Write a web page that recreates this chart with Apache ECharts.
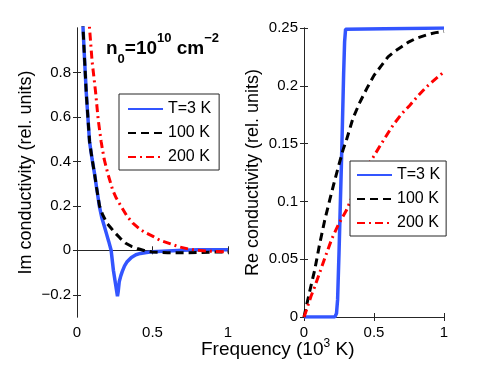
<!DOCTYPE html>
<html lang="en">
<head>
<meta charset="UTF-8">
<title>Conductivity</title>
<script src="https://cdn.jsdelivr.net/npm/echarts@6/dist/echarts.min.js"></script>
<style>body{margin:0;background:#fff}</style>
</head>
<body>
<div id="main" style="width:491px;height:369px"></div>
<script type="text/javascript">
// legend names
var names = ['T=3 K', '100 K', '200 K'];

// Im conductivity (left panel), frequency in 10^3 K
var imX3 = [0.035, 0.04, 0.05, 0.061, 0.07, 0.083, 0.1, 0.116, 0.13, 0.149, 0.165, 0.18, 0.195, 0.21, 0.226, 0.241, 0.255, 0.263, 0.268, 0.273, 0.28, 0.29, 0.3, 0.315, 0.33, 0.36, 0.39, 0.42, 0.46, 0.5, 0.6, 0.7, 0.8, 0.9, 1];
var imY3 = [1.1, 1.0, 0.86, 0.713, 0.62, 0.49, 0.41, 0.345, 0.28, 0.195, 0.145, 0.11, 0.075, 0.04, 0, -0.09, -0.15, -0.185, -0.207, -0.185, -0.14, -0.115, -0.095, -0.07, -0.053, -0.032, -0.02, -0.014, -0.01, -0.007, -0.003, 0, 0.002, 0.003, 0.003];
var imX100 = [0.035, 0.04, 0.05, 0.061, 0.07, 0.083, 0.1, 0.116, 0.13, 0.149, 0.17, 0.2, 0.225, 0.25, 0.285, 0.32, 0.36, 0.4, 0.45, 0.5, 0.6, 0.7, 0.8, 0.9, 1];
var imY100 = [1.1, 1.0, 0.86, 0.713, 0.62, 0.49, 0.41, 0.345, 0.28, 0.2, 0.16, 0.12, 0.1, 0.08, 0.055, 0.033, 0.018, 0.008, -0.002, -0.008, -0.011, -0.011, -0.01, -0.008, -0.007];
var imX200 = [0.075, 0.083, 0.1, 0.123, 0.14, 0.16, 0.18, 0.204, 0.237, 0.26, 0.29, 0.33, 0.37, 0.42, 0.46, 0.5, 0.55, 0.615, 0.68, 0.75, 0.8, 0.9, 1];
var imY200 = [1.06, 1.0, 0.85, 0.713, 0.59, 0.488, 0.41, 0.345, 0.27, 0.235, 0.2, 0.155, 0.122, 0.093, 0.077, 0.064, 0.045, 0.03, 0.015, 0.004, 0, -0.005, -0.007];

// Re conductivity (right panel)
var reX3 = [0, 0.22, 0.232, 0.24, 0.25, 0.26, 0.267, 0.275, 0.283, 0.29, 0.297, 0.31, 1];
var reY3 = [0, 0, 0.003, 0.015, 0.055, 0.1, 0.131, 0.17, 0.21, 0.238, 0.249, 0.25, 0.25];
var reX100 = [0, 0.021, 0.05, 0.076, 0.11, 0.148, 0.183, 0.219, 0.25, 0.28, 0.303, 0.35, 0.4, 0.45, 0.5, 0.55, 0.6, 0.65, 0.7, 0.75, 0.8, 0.874, 0.94, 1];
var reY100 = [0, 0.0116, 0.027, 0.0404, 0.062, 0.0837, 0.1008, 0.118, 0.132, 0.145, 0.153, 0.172, 0.186, 0.198, 0.209, 0.217, 0.225, 0.23, 0.234, 0.238, 0.241, 0.244, 0.246, 0.247];
var reX200 = [0, 0.017, 0.05, 0.076, 0.12, 0.16, 0.2, 0.25, 0.303, 0.374, 0.43, 0.493, 0.553, 0.636, 0.7, 0.755, 0.82, 0.874, 0.94, 1];
var reY200 = [0, 0.0058, 0.018, 0.026, 0.041, 0.0548, 0.068, 0.081, 0.0923, 0.1125, 0.126, 0.138, 0.15, 0.166, 0.176, 0.183, 0.192, 0.199, 0.206, 0.212];

// tick values
var imTicks = [-0.2, 0, 0.2, 0.4, 0.6, 0.8];

function zip(xs, ys) {
    return xs.map(function (x, i) { return [x, ys[i]]; });
}

var font = 'Liberation Sans, Arial, Helvetica, sans-serif';
var frame = '#262626';

function xAx(grid, pos) {
    return {
        type: 'value', gridIndex: grid, position: pos, min: 0, max: 1, interval: 0.5,
        axisLine: {show: true, lineStyle: {color: frame, width: 1}},
        axisTick: {show: true, inside: true, length: 4, lineStyle: {color: frame}},
        axisLabel: {show: pos === 'bottom', margin: 8, fontSize: 15, color: '#000', fontFamily: font},
        splitLine: {show: false}
    };
}

function minusFmt(v) {
    return String(v).replace('-', '\u2212');
}

var styles = [
    {color: '#3355ff', width: 3.5, type: 'solid'},
    {color: '#000000', width: 3, type: [8, 5]},
    {color: '#ff0000', width: 3, type: [8, 4, 2, 4]}
];

function mk(name, k, data, axis) {
    return {
        name: name, type: 'line', xAxisIndex: axis, yAxisIndex: axis,
        data: data, symbol: 'none', showSymbol: false, clip: true,
        lineStyle: styles[k], itemStyle: {color: styles[k].color},
        emphasis: {disabled: true}
    };
}

function legendBox(left, top, pad) {
    return {
        data: names, orient: 'vertical', left: left, top: top,
        itemWidth: 35, itemHeight: 14, itemGap: 8, padding: pad,
        borderColor: frame, borderWidth: 1, backgroundColor: '#fff',
        itemStyle: {opacity: 0},
        textStyle: {fontSize: 16, color: '#000', fontFamily: font},
        selectedMode: false
    };
}

var myChart = echarts.init(document.getElementById('main'));

var option = {
    animation: false,
    backgroundColor: '#fff',
    grid: [
        {left: 77, top: 28, width: 151, height: 289},
        {left: 304, top: 28, width: 140, height: 289}
    ],
    xAxis: [xAx(0, 'bottom'), xAx(0, 'top'), xAx(1, 'bottom'), xAx(1, 'top')],
    yAxis: [
        {
            type: 'value', gridIndex: 0, position: 'left', min: -0.3, max: 1,
            name: 'Im conductivity (rel. units)', nameLocation: 'middle', nameGap: 42,
            nameTextStyle: {fontSize: 18, color: '#000', fontFamily: font},
            axisLine: {show: true, lineStyle: {color: frame}},
            axisTick: {show: true, inside: true, length: 4, customValues: imTicks, lineStyle: {color: frame}},
            axisLabel: {margin: 6, fontSize: 15, color: '#000', fontFamily: font, customValues: imTicks, formatter: minusFmt},
            splitLine: {show: false}
        },
        {
            type: 'value', gridIndex: 0, position: 'right', min: -0.3, max: 1,
            axisLine: {show: true, lineStyle: {color: frame}},
            axisTick: {show: true, inside: true, length: 4, customValues: imTicks, lineStyle: {color: frame}},
            axisLabel: {show: false, customValues: imTicks},
            splitLine: {show: false}
        },
        {
            type: 'value', gridIndex: 1, position: 'left', min: 0, max: 0.25, interval: 0.05,
            name: 'Re conductivity (rel. units)', nameLocation: 'middle', nameGap: 42,
            nameTextStyle: {fontSize: 18, color: '#000', fontFamily: font},
            axisLine: {show: true, lineStyle: {color: frame}},
            axisTick: {show: true, inside: true, length: 4, lineStyle: {color: frame}},
            axisLabel: {margin: 6, fontSize: 15, color: '#000', fontFamily: font},
            splitLine: {show: false}
        },
        {
            type: 'value', gridIndex: 1, position: 'right', min: 0, max: 0.25, interval: 0.05,
            axisLine: {show: true, lineStyle: {color: frame}},
            axisTick: {show: true, inside: true, length: 4, lineStyle: {color: frame}},
            axisLabel: {show: false},
            splitLine: {show: false}
        }
    ],
    legend: [
        legendBox(119, 94, [7, 8, 5, 8]),
        legendBox(350, 161, [6, 6, 5, 6])
    ],
    graphic: [
        {
            type: 'text', left: 106, top: 32, z: 10,
            style: {
                text: '{b|n}{s|0}{b|=10}{p|10}{b| cm}{p|\u22122}',
                fill: '#000',
                rich: {
                    b: {fontSize: 19, fontWeight: 'bold', fontFamily: font, lineHeight: 34, verticalAlign: 'middle'},
                    s: {fontSize: 13, fontWeight: 'bold', fontFamily: font, lineHeight: 13, verticalAlign: 'bottom'},
                    p: {fontSize: 13, fontWeight: 'bold', fontFamily: font, lineHeight: 13, verticalAlign: 'top'}
                }
            }
        },
        {
            type: 'text', left: 201, top: 338, z: 10,
            style: {
                text: '{a|Frequency (10}{p|3}{a| K)}',
                fill: '#000',
                rich: {
                    a: {fontSize: 19, fontFamily: font, lineHeight: 24, verticalAlign: 'middle'},
                    p: {fontSize: 12, fontFamily: font, lineHeight: 12, verticalAlign: 'top'}
                }
            }
        }
    ],
    series: [
        mk(names[0], 0, zip(imX3, imY3), 0),
        mk(names[1], 1, zip(imX100, imY100), 0),
        mk(names[2], 2, zip(imX200, imY200), 0),
        mk(names[0], 0, zip(reX3, reY3), 2),
        mk(names[1], 1, zip(reX100, reY100), 2),
        mk(names[2], 2, zip(reX200, reY200), 2)
    ]
};

myChart.setOption(option);
</script>
</body>
</html>
